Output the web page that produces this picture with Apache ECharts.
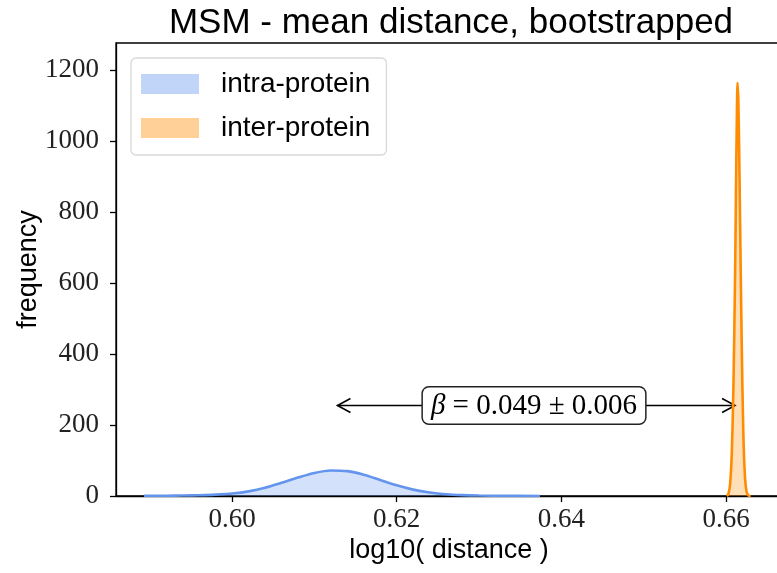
<!DOCTYPE html>
<html>
<head>
<meta charset="utf-8">
<script src="https://cdn.jsdelivr.net/npm/echarts@6/dist/echarts.min.js"></script>
<style>html,body{margin:0;padding:0;background:#fff}#c{width:777px;height:573px}</style>
</head>
<body>
<div id="c"></div>
<script>
// ---- data ----
const intraX = [0.5893, 0.592, 0.594, 0.596, 0.598, 0.600, 0.602, 0.604, 0.606, 0.608, 0.610, 0.612, 0.614, 0.616, 0.618, 0.620, 0.622, 0.624, 0.626, 0.628, 0.630, 0.633, 0.6374];
const intraY = [0.3, 0.7, 1.3, 2.3, 4, 7, 13, 23, 37, 52, 65, 72, 70, 60, 45, 30, 18, 10, 5, 2.5, 1.2, 0.5, 0.2];
const interX = [0.6601, 0.6603, 0.6605, 0.6607, 0.6609, 0.6611, 0.6612, 0.6613, 0.6614, 0.6615, 0.6616, 0.6617, 0.6619, 0.6621, 0.6623, 0.6625, 0.6627, 0.6630];
const interY = [0, 6, 35, 120, 310, 620, 840, 1040, 1164, 1110, 970, 790, 440, 180, 55, 12, 2, 0];
const seriesNames = ['intra-protein', 'inter-protein'];
const xTicks = [0.60, 0.62, 0.64, 0.66];
const yTicks = [0, 200, 400, 600, 800, 1000, 1200];
const arrowFrom = 0.6128, arrowTo = 0.6611, arrowY = 255;
const annotationText = '{b|β} = 0.049 ± 0.006';

const chart = echarts.init(document.getElementById('c'), null, {renderer: 'canvas'});
const zip = (xs, ys) => xs.map((x, i) => [x, ys[i]]);

const option = {
  animation: false,
  title: {
    text: 'MSM - mean distance, bootstrapped',
    left: 446, top: 1, textAlign: 'center',
    textStyle: {fontFamily: 'Liberation Sans', fontSize: 35, fontWeight: 'normal', color: '#000'}
  },
  grid: {left: 116, top: 43, width: 666, height: 453, outerBoundsMode: 'none', containLabel: false,
         show: true, borderColor: '#000', borderWidth: 1.3, backgroundColor: 'transparent'},
  legend: {
    orient: 'vertical', left: 131, top: 58,
    padding: [12, 16, 13, 10],
    itemWidth: 58, itemHeight: 20, itemGap: 16,
    icon: 'rect',
    backgroundColor: 'rgba(255,255,255,0.8)', borderColor: '#d8d8d8', borderWidth: 1.3, borderRadius: 5,
    textStyle: {fontFamily: 'Liberation Sans', fontSize: 28, color: '#000', padding: [0, 0, 0, 17]},
    data: [
      {name: seriesNames[0], itemStyle: {color: 'rgba(100,149,237,0.4)', borderWidth: 0}, lineStyle: {width: 0}},
      {name: seriesNames[1], itemStyle: {color: 'rgba(255,140,0,0.4)', borderWidth: 0}, lineStyle: {width: 0}}
    ]
  },
  xAxis: {
    type: 'value', min: 0.5859, max: 0.6668,
    name: 'log10( distance )', nameLocation: 'middle', nameGap: 41, nameMoveOverlap: false,
    nameTextStyle: {fontFamily: 'Liberation Sans', fontSize: 27, color: '#000'},
    axisLine: {show: true, onZero: false, lineStyle: {color: '#000', width: 1.3}},
    axisTick: {show: true, length: 6, lineStyle: {color: '#000', width: 1.3}, customValues: xTicks},
    axisLabel: {customValues: xTicks, margin: 10, fontFamily: 'Liberation Serif', fontSize: 27, color: '#222', formatter: v => v.toFixed(2)},
    splitLine: {show: false}
  },
  yAxis: {
    type: 'value', min: 0, max: 1276,
    name: 'frequency', nameLocation: 'middle', nameGap: 74, nameRotate: 90, nameMoveOverlap: false,
    nameTextStyle: {fontFamily: 'Liberation Sans', fontSize: 27, color: '#000'},
    axisLine: {show: true, onZero: false, lineStyle: {color: '#000', width: 1.3}},
    axisTick: {show: true, length: 6, lineStyle: {color: '#000', width: 1.3}, customValues: yTicks},
    axisLabel: {customValues: yTicks, margin: 17, fontFamily: 'Liberation Serif', fontSize: 27, color: '#222', formatter: v => String(v)},
    splitLine: {show: false}
  },
  series: [
    {
      name: seriesNames[0], type: 'line', data: zip(intraX, intraY),
      showSymbol: false, smooth: 0.3,
      lineStyle: {color: '#6495ed', width: 2.6}, itemStyle: {color: '#6495ed'},
      areaStyle: {color: 'rgba(100,149,237,0.4)'}
    },
    {
      name: seriesNames[1], type: 'line', data: zip(interX, interY),
      showSymbol: false, smooth: 0.3,
      lineStyle: {color: '#ff8c00', width: 2.6}, itemStyle: {color: '#ff8c00'},
      areaStyle: {color: 'rgba(255,140,0,0.4)'}
    },
    {
      name: 'annotation', type: 'custom', clip: false, silent: true,
      data: [[arrowFrom, arrowTo, arrowY]],
      renderItem: function (params, api) {
        const p1 = api.coord([api.value(0), api.value(2)]);
        const p2 = api.coord([api.value(1), api.value(2)]);
        const hl = 13, hw = 7;
        const st = {stroke: '#000', lineWidth: 1.6, fill: null};
        return {
          type: 'group',
          children: [
            {type: 'line', shape: {x1: p1[0], y1: p1[1], x2: p2[0], y2: p2[1]}, style: st},
            {type: 'polyline', shape: {points: [[p1[0] + hl, p1[1] - hw], [p1[0], p1[1]], [p1[0] + hl, p1[1] + hw]]}, style: st},
            {type: 'polyline', shape: {points: [[p2[0] - hl, p2[1] - hw], [p2[0], p2[1]], [p2[0] - hl, p2[1] + hw]]}, style: st},
            {
              type: 'text', x: 534, y: p1[1],
              style: {
                text: annotationText,
                fontFamily: 'Liberation Serif', fontSize: 29, fill: '#000',
                align: 'center', verticalAlign: 'middle',
                backgroundColor: '#fff', borderColor: '#222', borderWidth: 1.5, borderRadius: 6,
                padding: [4, 8, 3, 8],
                rich: {b: {fontFamily: 'Liberation Serif', fontSize: 29, fontStyle: 'italic', fill: '#000'}}
              }
            }
          ]
        };
      }
    }
  ]
};
chart.setOption(option);
</script>
</body>
</html>
